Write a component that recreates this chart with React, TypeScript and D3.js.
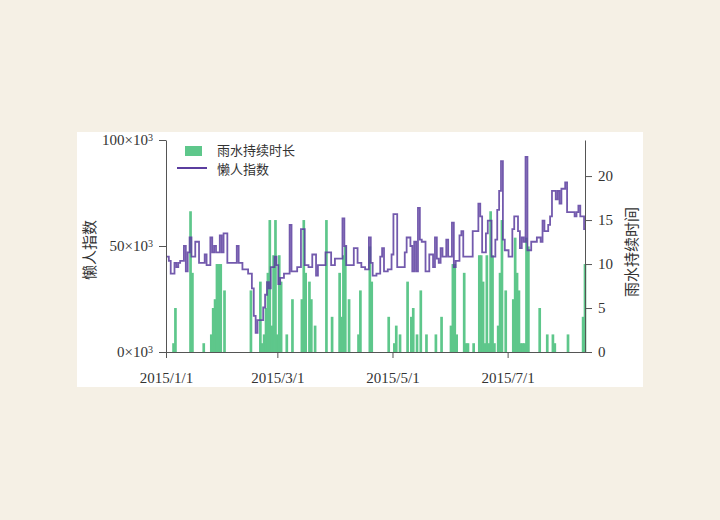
import React, { useEffect, useRef } from 'react';
import * as d3 from 'd3';

// daily values, 2015/1/1 .. 2015/8/11
const rainHours = [
  0, 0, 0, 0, 1, 5, 0, 0, 0, 0,
  0, 0, 0, 16, 9, 0, 0, 0, 0, 0,
  1, 0, 0, 0, 2, 5, 6, 10, 10, 10,
  0, 7, 0, 0, 0, 0, 0, 0, 0, 0,
  0, 0, 0, 0, 0, 7, 0, 0, 0, 0,
  8, 1, 2, 5, 9, 15, 3, 11, 15, 2,
  11, 8, 0, 0, 2, 0, 0, 6, 0, 0,
  0, 0, 6, 15, 9, 0, 8, 6, 0, 3,
  0, 0, 0, 0, 0, 15, 0, 0, 4, 0,
  0, 0, 9, 4, 11, 12, 0, 6, 0, 0,
  0, 0, 2, 7, 0, 0, 0, 0, 12, 8,
  0, 0, 0, 0, 0, 0, 0, 0, 4, 0,
  0, 1, 3, 0, 2, 0, 0, 0, 8, 0,
  4, 5, 0, 2, 0, 7, 0, 0, 2, 0,
  0, 0, 0, 2, 0, 0, 4, 0, 0, 0,
  0, 3, 10, 10, 2, 0, 0, 0, 9, 1,
  1, 0, 0, 1, 0, 0, 11, 11, 8, 1,
  11, 1, 16, 11, 1, 0, 3, 9, 15, 0,
  7, 0, 0, 0, 6, 13, 9, 7, 1, 1,
  1, 13, 12, 0, 0, 0, 0, 0, 5, 0,
  0, 0, 2, 0, 0, 2, 1, 0, 0, 0,
  0, 0, 0, 2, 0, 0, 0, 0, 0, 0,
  0, 4, 10,
];

// 懒人指数, in thousands
const lazyIndex = [
  45, 45, 43, 37, 37, 42, 40, 42, 43, 43,
  50, 38, 47, 54, 45, 45, 52, 52, 42, 42,
  42, 46, 41, 41, 54, 47, 50, 47, 47, 55,
  47, 56, 56, 42, 42, 42, 42, 42, 50, 42,
  42, 39, 39, 39, 37, 37, 30, 17, 9, 15,
  15, 15, 21, 27, 33, 30, 40, 40, 45, 41,
  32, 35, 35, 37, 37, 37, 60, 38, 38, 38,
  40, 40, 58, 58, 41, 41, 40, 40, 46, 46,
  36, 41, 41, 41, 41, 47, 47, 47, 41, 41,
  44, 44, 44, 44, 63, 50, 41, 41, 41, 41,
  49, 49, 42, 42, 40, 40, 39, 39, 54, 42,
  36, 36, 37, 37, 45, 49, 38, 38, 39, 39,
  46, 65, 65, 40, 40, 40, 40, 47, 54, 54,
  50, 38, 52, 38, 68, 53, 52, 52, 38, 38,
  46, 46, 40, 54, 44, 42, 49, 45, 45, 53,
  45, 45, 61, 40, 43, 43, 55, 57, 45, 45,
  45, 45, 45, 57, 57, 57, 70, 64, 47, 47,
  56, 62, 62, 45, 45, 53, 67, 76, 90, 53,
  48, 48, 45, 45, 58, 64, 64, 57, 49, 54,
  52, 92, 48, 48, 52, 52, 52, 54, 54, 52,
  62, 57, 57, 60, 64, 76, 76, 72, 76, 70,
  77, 77, 80, 66, 66, 66, 66, 64, 66, 69,
  64, 64, 58,
];

const xTickDates = ['2015-01-01', '2015-03-01', '2015-05-01', '2015-07-01'];
const leftTicks = [0, 50, 100];
const rightTicks = [0, 5, 10, 15, 20];
const legendNames = ['雨水持续时长', '懒人指数'];

const GREEN = '#5ec78b';
const PURPLE = '#5b3d9f';
const AXIS = '#555';
const NUM_FONT = '"Liberation Serif", "Times New Roman", serif';
const CJK_FONT = '"Noto Sans CJK SC", sans-serif';

export default function App() {
  const ref = useRef<SVGSVGElement>(null);

  useEffect(() => {
    const svg = d3.select(ref.current);
    svg.selectAll('*').remove();

    const left = 166, right = 585, top = 140, bottom = 352;
    const start = new Date(2015, 0, 1);
    const dates = rainHours.map((_, i) => d3.timeDay.offset(start, i));

    const x = d3.scaleTime()
      .domain([start, new Date(2015, 7, 11)])
      .range([left, right]);
    const yL = d3.scaleLinear().domain([0, 100]).range([bottom, top]);
    const yR = d3.scaleLinear().domain([0, 24.1]).range([bottom, top]);

    // panel
    svg.append('rect')
      .attr('x', 77).attr('y', 132).attr('width', 566).attr('height', 255)
      .attr('fill', '#fff');

    const bw = x(dates[1]) - x(dates[0]) + 0.8;
    svg.append('g')
      .selectAll('rect')
      .data(rainHours.map((v, i) => ({ v, d: dates[i] })).filter(o => o.v > 0))
      .enter().append('rect')
      .attr('x', o => x(o.d) - bw / 2)
      .attr('y', o => yR(o.v))
      .attr('width', bw)
      .attr('height', o => yR(0) - yR(o.v))
      .attr('fill', GREEN);

    const line = d3.line<number>()
      .x((_, i) => x(dates[i]))
      .y(v => yL(v))
      .curve(d3.curveStep);

    svg.append('path')
      .attr('d', line(lazyIndex))
      .attr('fill', 'none')
      .attr('stroke', PURPLE)
      .attr('stroke-opacity', 0.85)
      .attr('stroke-width', 1.8);

    // axes
    const fmt = d3.timeFormat('%Y/%-m/%-d');
    const gx = svg.append('g')
      .attr('transform', `translate(0,${bottom})`)
      .call(d3.axisBottom(x)
        .tickValues(xTickDates.map(s => d3.timeParse('%Y-%m-%d')(s)))
        .tickFormat(fmt as any)
        .tickSizeInner(6).tickSizeOuter(0).tickPadding(14));

    const gl = svg.append('g')
      .attr('transform', `translate(${left},0)`)
      .call(d3.axisLeft(yL).tickValues(leftTicks).tickSizeInner(7).tickSizeOuter(0).tickPadding(6));
    gl.selectAll('.tick text').each(function (d: any) {
      const t = d3.select(this);
      t.text(null);
      t.append('tspan').text(`${d}×10`);
      t.append('tspan').attr('dy', '-0.45em').attr('font-size', 10).text('3');
    });

    const gr = svg.append('g')
      .attr('transform', `translate(${right},0)`)
      .call(d3.axisRight(yR).tickValues(rightTicks).tickSizeInner(7).tickSizeOuter(0).tickPadding(6));

    [gx, gl, gr].forEach(g => {
      g.select('.domain').attr('stroke', AXIS);
      g.selectAll('.tick line').attr('stroke', AXIS);
      g.selectAll('.tick text')
        .attr('font-family', NUM_FONT)
        .attr('font-size', 15)
        .attr('fill', '#333');
    });

    // axis titles
    svg.append('text')
      .attr('transform', `translate(95,${(top + bottom) / 2 + 4}) rotate(-90)`)
      .attr('text-anchor', 'middle')
      .attr('font-family', CJK_FONT).attr('font-size', 15).attr('fill', '#333')
      .text('懒人指数');
    svg.append('text')
      .attr('transform', `translate(637,${(top + bottom) / 2 + 6}) rotate(-90)`)
      .attr('text-anchor', 'middle')
      .attr('font-family', CJK_FONT).attr('font-size', 15).attr('fill', '#333')
      .text('雨水持续时间');

    // legend
    const lg = svg.append('g');
    lg.append('rect').attr('x', 185).attr('y', 146).attr('width', 17).attr('height', 10).attr('fill', GREEN);
    lg.append('line').attr('x1', 177).attr('x2', 207).attr('y1', 168).attr('y2', 168)
      .attr('stroke', PURPLE).attr('stroke-width', 2);
    legendNames.forEach((name, i) => {
      lg.append('text')
        .attr('x', 217).attr('y', 155 + i * 19)
        .attr('font-family', CJK_FONT).attr('font-size', 13).attr('fill', '#333')
        .text(name);
    });
  }, []);

  return (
    <div style={{ position: 'fixed', left: 0, top: 0, width: 720, height: 520, background: '#f5f0e5' }}>
      <svg ref={ref} width={720} height={520} style={{ display: 'block' }} />
    </div>
  );
}
